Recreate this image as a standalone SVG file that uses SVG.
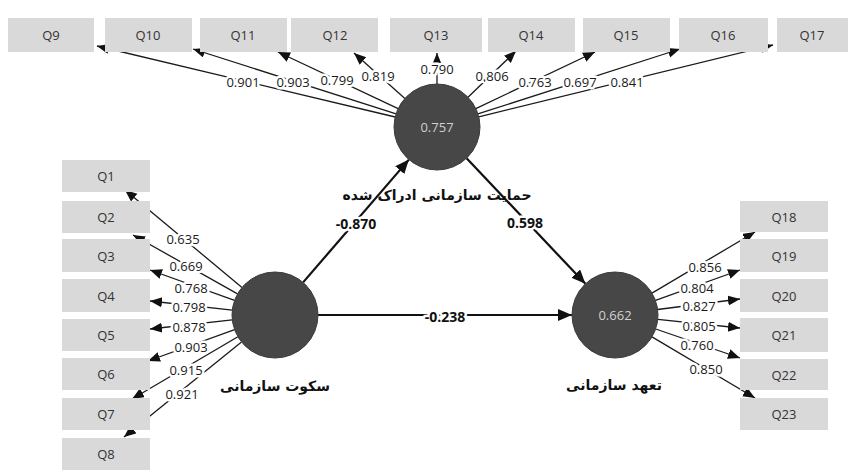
<svg xmlns="http://www.w3.org/2000/svg" width="852" height="470" viewBox="0 0 852 470">
<style>
.box{fill:#d9d9d9}
.bt{font-family:"Open Sans","Liberation Sans",sans-serif;font-size:13px;fill:#333;text-anchor:middle;dominant-baseline:central}
.lv{fill:#474747;stroke:#3a3a3a;stroke-width:1}
.vt{font-family:"Open Sans","Liberation Sans",sans-serif;font-size:13px;fill:#d0d0d0;text-anchor:middle;dominant-baseline:central}
.nm{font-family:"DejaVu Sans","Noto Sans",sans-serif;font-size:14px;font-weight:bold;fill:#111;text-anchor:middle;dominant-baseline:central}
.ind{stroke:#1a1a1a;stroke-width:1.3;fill:none;marker-end:url(#ah)}
.str{stroke:#111;stroke-width:2.2;fill:none;marker-end:url(#ahb)}
.il{font-family:"Open Sans","Liberation Sans",sans-serif;font-size:13px;fill:#1a1a1a;text-anchor:middle;dominant-baseline:central;stroke:#fff;stroke-width:5;stroke-linejoin:round;paint-order:stroke}
.sl{font-family:"Open Sans","Liberation Sans",sans-serif;font-size:14px;font-weight:bold;fill:#111;text-anchor:middle;dominant-baseline:central;stroke:#fff;stroke-width:5;stroke-linejoin:round;paint-order:stroke}
</style>
<defs>
<marker id="ah" markerUnits="userSpaceOnUse" markerWidth="14" markerHeight="12" refX="12" refY="5" orient="auto"><path d="M0,0 L12,5 L0,10 z" fill="#111"/></marker>
<marker id="ahb" markerUnits="userSpaceOnUse" markerWidth="16" markerHeight="14" refX="14" refY="6" orient="auto"><path d="M0,0 L14,6 L0,12 z" fill="#111"/></marker>
</defs>
<rect width="852" height="470" fill="#fff"/>
<g id="connectors">
<line class="ind" x1="395.2" y1="117.0" x2="97" y2="46"/>
<line class="ind" x1="396.1" y1="113.9" x2="193" y2="49"/>
<line class="ind" x1="398.1" y1="108.6" x2="278" y2="52"/>
<line class="ind" x1="404.9" y1="98.4" x2="354" y2="53"/>
<line class="ind" x1="437" y1="84" x2="437" y2="53"/>
<line class="ind" x1="468.0" y1="97.2" x2="516" y2="51"/>
<line class="ind" x1="475.8" y1="108.6" x2="595" y2="52"/>
<line class="ind" x1="477.9" y1="113.9" x2="680" y2="49"/>
<line class="ind" x1="478.8" y1="116.8" x2="773" y2="45"/>
<line class="ind" x1="242.0" y1="287.5" x2="125" y2="190"/>
<line class="ind" x1="237.5" y1="293.9" x2="133" y2="235"/>
<line class="ind" x1="234.5" y1="300.4" x2="150" y2="270"/>
<line class="ind" x1="232.3" y1="310.2" x2="150" y2="301"/>
<line class="ind" x1="232.3" y1="319.8" x2="150" y2="329"/>
<line class="ind" x1="234.6" y1="329.6" x2="148" y2="361"/>
<line class="ind" x1="237.9" y1="336.8" x2="132" y2="399"/>
<line class="ind" x1="241.5" y1="342.0" x2="124" y2="437"/>
<line class="ind" x1="652.0" y1="293.1" x2="755" y2="232"/>
<line class="ind" x1="655.5" y1="300.4" x2="740" y2="270"/>
<line class="ind" x1="657.6" y1="309.5" x2="740" y2="299"/>
<line class="ind" x1="657.8" y1="319.4" x2="740" y2="328"/>
<line class="ind" x1="655.7" y1="329.0" x2="740" y2="358"/>
<line class="ind" x1="652.0" y1="336.9" x2="755" y2="398"/>
<line class="str" x1="303.1" y1="282.4" x2="408.9" y2="159.6"/>
<line class="str" x1="466.6" y1="158.2" x2="585.4" y2="283.8"/>
<line class="str" x1="318" y1="315" x2="572" y2="315"/>
<text class="il" x="243" y="82">0.901</text>
<text class="il" x="293" y="82">0.903</text>
<text class="il" x="337" y="80">0.799</text>
<text class="il" x="378" y="76">0.819</text>
<text class="il" x="437" y="69">0.790</text>
<text class="il" x="492" y="76">0.806</text>
<text class="il" x="535" y="82">0.763</text>
<text class="il" x="580" y="82">0.697</text>
<text class="il" x="627" y="82">0.841</text>
<text class="il" x="183" y="239">0.635</text>
<text class="il" x="186" y="266">0.669</text>
<text class="il" x="191" y="288">0.768</text>
<text class="il" x="189" y="307">0.798</text>
<text class="il" x="189" y="327">0.878</text>
<text class="il" x="191" y="347">0.903</text>
<text class="il" x="186" y="370">0.915</text>
<text class="il" x="182" y="394">0.921</text>
<text class="il" x="705" y="267">0.856</text>
<text class="il" x="697" y="288">0.804</text>
<text class="il" x="699" y="306">0.827</text>
<text class="il" x="699" y="326">0.805</text>
<text class="il" x="697" y="345">0.760</text>
<text class="il" x="706" y="369">0.850</text>
<text class="sl" x="356" y="223">-0.870</text>
<text class="sl" x="525" y="222">0.598</text>
<text class="sl" x="445" y="316">-0.238</text>
</g>
<g id="Q9"><rect class="box" x="8" y="18" width="86" height="34"/><text class="bt" x="51" y="35">Q9</text></g>
<g id="Q10"><rect class="box" x="105" y="18" width="87" height="34"/><text class="bt" x="148" y="35">Q10</text></g>
<g id="Q11"><rect class="box" x="200" y="18" width="87" height="34"/><text class="bt" x="243" y="35">Q11</text></g>
<g id="Q12"><rect class="box" x="291" y="18" width="87" height="34"/><text class="bt" x="335" y="35">Q12</text></g>
<g id="Q13"><rect class="box" x="390" y="18" width="92" height="34"/><text class="bt" x="436" y="35">Q13</text></g>
<g id="Q14"><rect class="box" x="488" y="18" width="87" height="34"/><text class="bt" x="531" y="35">Q14</text></g>
<g id="Q15"><rect class="box" x="583" y="18" width="87" height="34"/><text class="bt" x="626" y="35">Q15</text></g>
<g id="Q16"><rect class="box" x="679" y="18" width="89" height="34"/><text class="bt" x="723" y="35">Q16</text></g>
<g id="Q17"><rect class="box" x="777" y="18" width="71" height="34"/><text class="bt" x="812" y="35">Q17</text></g>
<g id="Q1"><rect class="box" x="62" y="160" width="88" height="32"/><text class="bt" x="106" y="176">Q1</text></g>
<g id="Q2"><rect class="box" x="62" y="201" width="88" height="32"/><text class="bt" x="106" y="217">Q2</text></g>
<g id="Q3"><rect class="box" x="62" y="239" width="88" height="33"/><text class="bt" x="106" y="256">Q3</text></g>
<g id="Q4"><rect class="box" x="62" y="279" width="88" height="33"/><text class="bt" x="106" y="296">Q4</text></g>
<g id="Q5"><rect class="box" x="62" y="319" width="88" height="32"/><text class="bt" x="106" y="335">Q5</text></g>
<g id="Q6"><rect class="box" x="62" y="358" width="88" height="32"/><text class="bt" x="106" y="374">Q6</text></g>
<g id="Q7"><rect class="box" x="62" y="398" width="88" height="32"/><text class="bt" x="106" y="414">Q7</text></g>
<g id="Q8"><rect class="box" x="62" y="438" width="88" height="32"/><text class="bt" x="106" y="454">Q8</text></g>
<g id="Q18"><rect class="box" x="740" y="201" width="88" height="31"/><text class="bt" x="784" y="217">Q18</text></g>
<g id="Q19"><rect class="box" x="740" y="239" width="88" height="33"/><text class="bt" x="784" y="256">Q19</text></g>
<g id="Q20"><rect class="box" x="740" y="279" width="88" height="33"/><text class="bt" x="784" y="296">Q20</text></g>
<g id="Q21"><rect class="box" x="740" y="318" width="88" height="34"/><text class="bt" x="784" y="335">Q21</text></g>
<g id="Q22"><rect class="box" x="740" y="359" width="88" height="31"/><text class="bt" x="784" y="375">Q22</text></g>
<g id="Q23"><rect class="box" x="740" y="398" width="88" height="32"/><text class="bt" x="784" y="414">Q23</text></g>
<g id="support"><circle class="lv" cx="437" cy="127" r="43"/><text class="vt" x="437" y="127">0.757</text><text class="nm" x="437" y="195" direction="rtl">حمایت سازمانی ادراک شده</text></g>
<g id="silence"><circle class="lv" cx="275" cy="315" r="43"/><text class="nm" x="275" y="386" direction="rtl">سکوت سازمانی</text></g>
<g id="commitment"><circle class="lv" cx="615" cy="315" r="43"/><text class="vt" x="615" y="315">0.662</text><text class="nm" x="614" y="385" direction="rtl">تعهد سازمانی</text></g>
</svg>
